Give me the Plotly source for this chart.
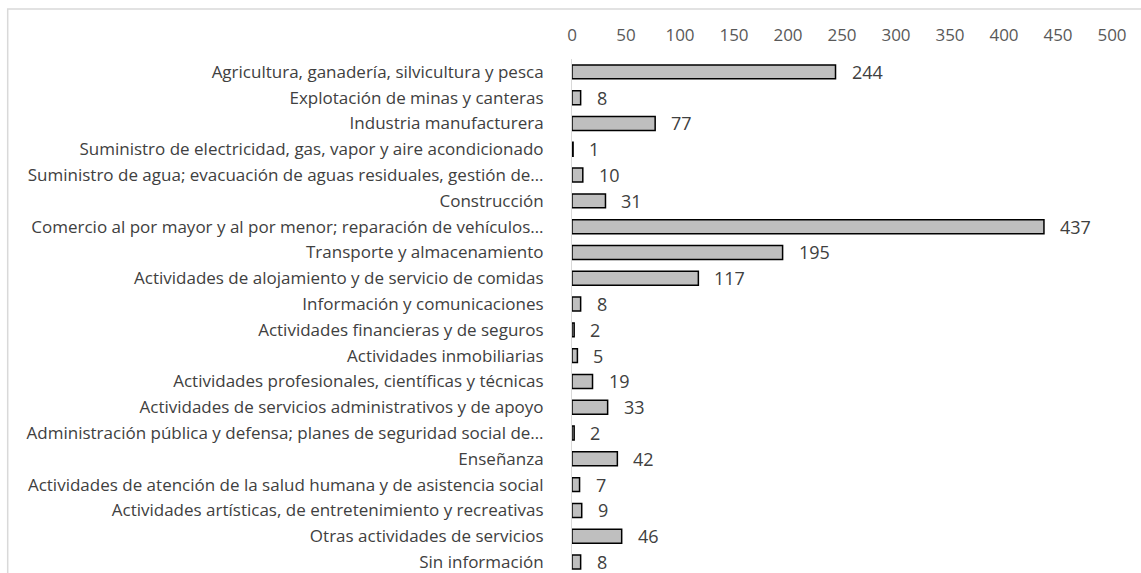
import plotly.graph_objects as go

# actividades economicas, valores
categorias = [
    "Agricultura, ganadería, silvicultura y pesca",
    "Explotación de minas y canteras",
    "Industria manufacturera",
    "Suministro de electricidad, gas, vapor y aire acondicionado",
    "Suministro de agua; evacuación de aguas residuales, gestión de…",
    "Construcción",
    "Comercio al por mayor y al por menor; reparación de vehículos…",
    "Transporte y almacenamiento",
    "Actividades de alojamiento y de servicio de comidas",
    "Información y comunicaciones",
    "Actividades financieras y de seguros",
    "Actividades inmobiliarias",
    "Actividades profesionales, científicas y técnicas",
    "Actividades de servicios administrativos y de apoyo",
    "Administración pública y defensa; planes de seguridad social de…",
    "Enseñanza",
    "Actividades de atención de la salud humana y de asistencia social",
    "Actividades artísticas, de entretenimiento y recreativas",
    "Otras actividades de servicios",
    "Sin información",
]
valores = [244, 8, 77, 1, 10, 31, 437, 195, 117, 8, 2, 5, 19, 33, 2, 42, 7, 9, 46, 8]
ticks_x = [0, 50, 100, 150, 200, 250, 300, 350, 400, 450, 500]

FONT = "Open Sans, sans-serif"

fig = go.Figure(go.Bar(
    x=valores, y=categorias, orientation="h",
    marker=dict(color="#bfbfbf", line=dict(color="#000000", width=1.5)),
    hoverinfo="x+y",
))

for cat, v in zip(categorias, valores):
    fig.add_annotation(x=v, y=cat, text=str(v), showarrow=False,
                       xanchor="left", xshift=14,
                       font=dict(family=FONT, size=18, color="#404040"))

# marco gris del area del grafico (recortado por la ventana)
fig.add_shape(type="rect", xref="paper", yref="paper",
              x0=-1.045, x1=1.2, y0=-0.3, y1=1.098,
              line=dict(color="#d9d9d9", width=1.5), layer="below")

fig.update_layout(
    width=1141, height=573,
    margin=dict(l=572, r=29, t=59, b=0),
    plot_bgcolor="white", paper_bgcolor="white",
    font=dict(family=FONT, size=17, color="#404040"),
    bargap=0.46,
    showlegend=False,
)
fig.update_xaxes(
    side="top", range=[0, 500], tickvals=ticks_x, showgrid=False,
    zeroline=False, showline=False, ticks="",
    tickfont=dict(size=17, color="#595959"), ticklabelstandoff=14,
)
fig.update_yaxes(
    categoryorder="array", categoryarray=categorias,
    range=[19.31, -0.5], showgrid=False, zeroline=False,
    showline=True, linecolor="#d9d9d9", linewidth=1, ticks="",
    tickfont=dict(size=17, color="#404040"), ticklabelstandoff=24,
)

fig.write_html("out.html", config={"displayModeBar": False},
               post_script="document.body.style.margin='0';")
